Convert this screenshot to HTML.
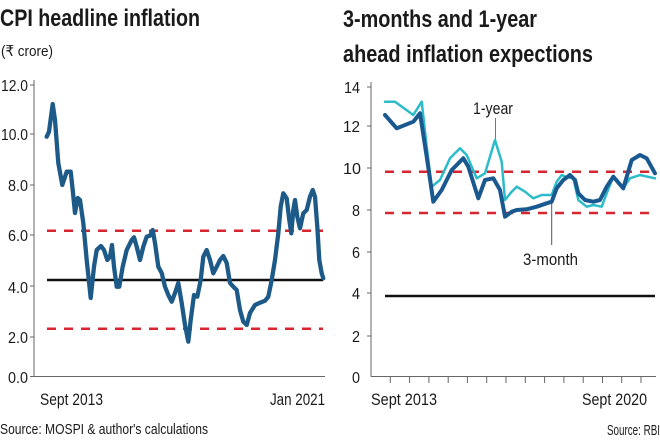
<!DOCTYPE html>
<html>
<head>
<meta charset="utf-8">
<style>
html,body{margin:0;padding:0;background:#fff;}
svg{display:block;}
text{font-family:"Liberation Sans","DejaVu Sans",sans-serif;fill:#1a1a1a;}
</style>
</head>
<body>
<svg width="660" height="440" viewBox="0 0 660 440" xmlns="http://www.w3.org/2000/svg">
<rect width="660" height="440" fill="#fff"/>

<!-- LEFT CHART -->
<text x="0" y="26" font-size="24" font-weight="bold" textLength="200" lengthAdjust="spacingAndGlyphs">CPI headline inflation</text>
<text x="1" y="56" font-size="15" textLength="52" lengthAdjust="spacingAndGlyphs">(₹ crore)</text>

<!-- axes -->
<line x1="34" y1="80" x2="34" y2="376.5" stroke="#666" stroke-width="1"/>
<line x1="34" y1="376.5" x2="325" y2="376.5" stroke="#666" stroke-width="1"/>
<g stroke="#666" stroke-width="1">
<line x1="30" y1="85" x2="34" y2="85"/>
<line x1="30" y1="134" x2="34" y2="134"/>
<line x1="30" y1="185" x2="34" y2="185"/>
<line x1="30" y1="235" x2="34" y2="235"/>
<line x1="30" y1="286" x2="34" y2="286"/>
<line x1="30" y1="337" x2="34" y2="337"/>
<line x1="30" y1="376.5" x2="34" y2="376.5"/>
</g>
<g font-size="16" text-anchor="end">
<text x="28" y="91" textLength="27" lengthAdjust="spacingAndGlyphs">12.0</text>
<text x="28" y="140" textLength="27" lengthAdjust="spacingAndGlyphs">10.0</text>
<text x="28" y="191" textLength="20" lengthAdjust="spacingAndGlyphs">8.0</text>
<text x="28" y="241" textLength="20" lengthAdjust="spacingAndGlyphs">6.0</text>
<text x="28" y="293" textLength="20" lengthAdjust="spacingAndGlyphs">4.0</text>
<text x="28" y="343" textLength="20" lengthAdjust="spacingAndGlyphs">2.0</text>
<text x="28" y="383" textLength="20" lengthAdjust="spacingAndGlyphs">0.0</text>
</g>

<line x1="47" y1="230.7" x2="323" y2="230.7" stroke="#d7262f" stroke-width="2.5" stroke-dasharray="9 8"/>
<line x1="47" y1="328.7" x2="323" y2="328.7" stroke="#d7262f" stroke-width="2.5" stroke-dasharray="9 8"/>
<line x1="47" y1="280" x2="323" y2="280" stroke="#111" stroke-width="2.5"/>

<polyline fill="none" stroke="#1d5a88" stroke-width="4.3" stroke-linejoin="round" stroke-linecap="round"
points="46.7,136.7 49,131.7 52.7,104 55,120 58.3,163 62.3,185 66.7,171.7 70.7,171.7 72.7,190 75,213 77.7,198 80,200 83.3,223 86.7,260 90.7,298 94,266.7 96.7,250 101,246 104,250 107.3,260 110,256.7 112,245 114,266.7 116.7,286.7 119.3,286.7 122.7,266.7 126.7,250 131.7,240 134,237.3 136.7,246.7 140,260 143.3,246.7 146.7,236.7 150,235.7 152.7,230 155,243 158.3,266.7 161.7,273 165,286.7 168.3,295 171.7,301.7 175,293 178.3,283 181.7,303 185,325 188.3,341.7 190.7,320 194,295 197.3,296.7 200.7,280 203.3,256.7 206.7,250 210,260 213.3,273.3 216.7,266.7 220,260 223.3,256 226.7,263 230,283 233.3,286.7 236.7,290 240,310 243.3,321.7 246.7,325 250,313 255,305 260,302.7 265,300.7 268.3,296.7 271.7,280 275,260 278.3,233.3 280.7,206.7 283.3,193.3 286.7,198.3 289.3,220 291.3,233.3 293.3,210 295,200 297.3,216.7 300,228.3 303.3,213.3 306.7,210 310,196.7 312.7,190 315,196.7 317.3,226.7 319.3,260 321.7,273.3 323.3,278.3"/>

<text x="40" y="405" font-size="17" textLength="63" lengthAdjust="spacingAndGlyphs">Sept 2013</text>
<text x="270" y="405" font-size="17" textLength="55" lengthAdjust="spacingAndGlyphs">Jan 2021</text>
<text x="0" y="434" font-size="15" textLength="208" lengthAdjust="spacingAndGlyphs">Source: MOSPI &amp; author's calculations</text>

<!-- RIGHT CHART -->
<text x="343" y="27" font-size="24" font-weight="bold" textLength="194" lengthAdjust="spacingAndGlyphs">3-months and 1-year</text>
<text x="343" y="62" font-size="24" font-weight="bold" textLength="250" lengthAdjust="spacingAndGlyphs">ahead inflation expections</text>

<line x1="371" y1="82" x2="371" y2="376.5" stroke="#666" stroke-width="1"/>
<line x1="371" y1="376.5" x2="656" y2="376.5" stroke="#666" stroke-width="1"/>
<g stroke="#666" stroke-width="1">
<line x1="367" y1="87" x2="371" y2="87"/>
<line x1="367" y1="126" x2="371" y2="126"/>
<line x1="367" y1="168" x2="371" y2="168"/>
<line x1="367" y1="210" x2="371" y2="210"/>
<line x1="367" y1="252" x2="371" y2="252"/>
<line x1="367" y1="293" x2="371" y2="293"/>
<line x1="367" y1="336" x2="371" y2="336"/>
<line x1="390.3" y1="376.5" x2="390.3" y2="383"/>
<line x1="409.6" y1="376.5" x2="409.6" y2="383"/>
<line x1="428.9" y1="376.5" x2="428.9" y2="383"/>
<line x1="448.2" y1="376.5" x2="448.2" y2="383"/>
<line x1="467.4" y1="376.5" x2="467.4" y2="383"/>
<line x1="486.7" y1="376.5" x2="486.7" y2="383"/>
<line x1="506" y1="376.5" x2="506" y2="383"/>
<line x1="525.3" y1="376.5" x2="525.3" y2="383"/>
<line x1="544.6" y1="376.5" x2="544.6" y2="383"/>
<line x1="563.9" y1="376.5" x2="563.9" y2="383"/>
<line x1="583.2" y1="376.5" x2="583.2" y2="383"/>
<line x1="602.5" y1="376.5" x2="602.5" y2="383"/>
<line x1="621.7" y1="376.5" x2="621.7" y2="383"/>
<line x1="641" y1="376.5" x2="641" y2="383"/>
</g>
<g font-size="16" text-anchor="end">
<text x="360" y="93" textLength="16" lengthAdjust="spacingAndGlyphs">14</text>
<text x="360" y="132" textLength="17" lengthAdjust="spacingAndGlyphs">12</text>
<text x="361" y="174" textLength="18" lengthAdjust="spacingAndGlyphs">10</text>
<text x="360" y="216" textLength="8" lengthAdjust="spacingAndGlyphs">8</text>
<text x="360" y="258" textLength="8" lengthAdjust="spacingAndGlyphs">6</text>
<text x="360" y="299" textLength="8" lengthAdjust="spacingAndGlyphs">4</text>
<text x="360" y="342" textLength="8" lengthAdjust="spacingAndGlyphs">2</text>
<text x="360" y="383" textLength="8" lengthAdjust="spacingAndGlyphs">0</text>
</g>

<line x1="385" y1="171.7" x2="655" y2="171.7" stroke="#d7262f" stroke-width="2.5" stroke-dasharray="9 8"/>
<line x1="385" y1="213" x2="655" y2="213" stroke="#d7262f" stroke-width="2.5" stroke-dasharray="9 8"/>
<line x1="385" y1="296" x2="655" y2="296" stroke="#111" stroke-width="2.5"/>

<!-- leaders -->
<line x1="495.5" y1="118" x2="495.5" y2="140" stroke="#777" stroke-width="1"/>
<line x1="551.7" y1="203" x2="551.7" y2="245" stroke="#555" stroke-width="1"/>

<polyline fill="none" stroke="#2cbcc9" stroke-width="2.5" stroke-linejoin="round" stroke-linecap="round"
points="385,101.7 395,101.7 413.3,115 421.7,101.7 426.7,146.7 431.7,186.7 440,180 450,158.3 460,148.3 466.7,155 476.7,178.3 485,173.3 495,140 501.7,161.7 505,200 511.7,191.7 516.7,186.7 525,191.7 533.3,198.3 541.7,195 551.7,195 556.7,181.7 561.7,175 566.7,177.3 573.3,178.3 578.3,200 586.7,206.7 593.3,205 601.7,206.7 606.7,193.3 613.3,176.7 623.3,188.3 630,178.3 640,175 655,178.3"/>
<polyline fill="none" stroke="#1a5890" stroke-width="4" stroke-linejoin="round" stroke-linecap="round"
points="385,115 396.7,128.3 413.3,121.7 420,113.3 426.7,156.7 433.3,201.7 441.7,190 451.7,170 463.3,158.3 468.3,166.7 478.3,198.3 485,180 493.3,178.3 500,190 505,216.7 511.7,211.7 516.7,210 526.7,209.3 536.7,206.7 546.7,203.3 551.7,201.7 556.7,188.3 563.3,180 570,175 575,180 578.3,193.3 585,200 593.3,201.7 600,200 606.7,186.7 613.3,176.7 623.3,188.3 631.7,160 640,155 646.7,158.3 655,173.3"/>

<text x="473" y="114" font-size="17" textLength="40" lengthAdjust="spacingAndGlyphs">1-year</text>
<text x="523" y="265" font-size="17" textLength="55" lengthAdjust="spacingAndGlyphs">3-month</text>

<text x="371" y="405" font-size="17" textLength="66" lengthAdjust="spacingAndGlyphs">Sept 2013</text>
<text x="582" y="405" font-size="17" textLength="65" lengthAdjust="spacingAndGlyphs">Sept 2020</text>
<text x="607" y="435" font-size="15" textLength="53" lengthAdjust="spacingAndGlyphs">Source: RBI</text>
</svg>
</body>
</html>
